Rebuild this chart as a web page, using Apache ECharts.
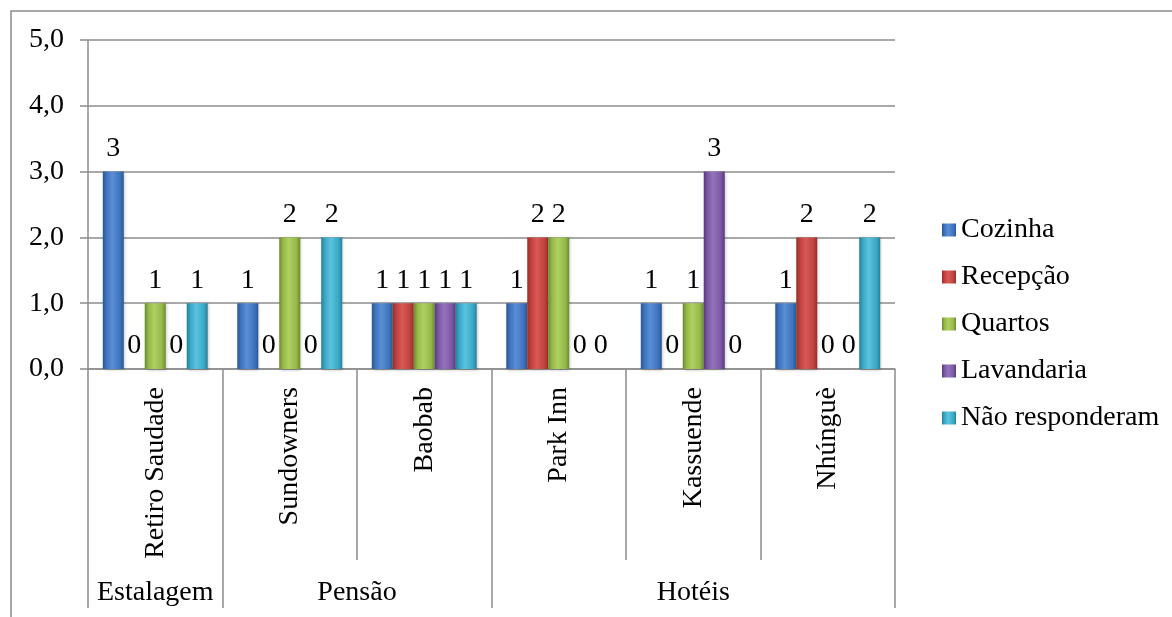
<!DOCTYPE html>
<html>
<head>
<meta charset="utf-8">
<style>
  html, body { margin: 0; padding: 0; background: #fff; }
  #main { width: 1172px; height: 617px; }
</style>
<script src="https://cdn.jsdelivr.net/npm/echarts@6/dist/echarts.min.js"></script>
</head>
<body>
<div id="main"></div>
<script>
var hotels = ['Retiro Saudade', 'Sundowners', 'Baobab', 'Park Inn', 'Kassuende', 'Nhúnguè'];
var groupNames = ['Estalagem', 'Pensão', 'Hotéis'];
var groupBounds = [0, 1, 3, 6];
var groupCenters = [0.5, 2, 4.5];
var seriesNames = ['Cozinha', 'Recepção', 'Quartos', 'Lavandaria', 'Não responderam'];
var cozinha = [3, 1, 1, 1, 1, 1];
var recepcao = [0, 0, 1, 2, 0, 2];
var quartos = [1, 2, 1, 2, 1, 0];
var lavandaria = [0, 0, 1, 0, 3, 0];
var naoResponderam = [1, 2, 1, 0, 0, 2];

var values = [cozinha, recepcao, quartos, lavandaria, naoResponderam];
// cores: borda escura, base, realce
var palette = [
  ['#2a5793', '#3f74bd', '#5a8fd6'],
  ['#93302d', '#c0413d', '#d85a55'],
  ['#6d8a2e', '#94b84a', '#afd061'],
  ['#56397a', '#7b58a3', '#9473bd'],
  ['#25819b', '#3aa8c6', '#5cc3dd']
];

var font = 'Liberation Serif';
var fs = 28;
var gray = '#8c8c8c';

function barColor(c) {
  return new echarts.graphic.LinearGradient(0, 0, 1, 0, [
    {offset: 0, color: c[0]},
    {offset: 0.18, color: c[1]},
    {offset: 0.45, color: c[2]},
    {offset: 0.82, color: c[1]},
    {offset: 1, color: c[0]}
  ]);
}

var series = seriesNames.map(function (name, i) {
  return {
    name: name,
    type: 'bar',
    xAxisIndex: 0,
    data: values[i],
    barGap: '0%',
    barCategoryGap: '22%',
    itemStyle: {
      color: barColor(palette[i]),
      shadowColor: 'rgba(0,0,0,0.25)',
      shadowBlur: 3,
      shadowOffsetX: 1,
      shadowOffsetY: 1
    },
    label: {
      show: true,
      position: 'top',
      distance: 9,
      color: '#000',
      fontFamily: font,
      fontSize: fs
    }
  };
});

var myChart = echarts.init(document.getElementById('main'));
var option = {
  animation: false,
  textStyle: { fontFamily: font },
  color: palette.map(function (c) { return c[1]; }),
  grid: { left: 88, top: 40, right: 277, bottom: 248 },
  legend: {
    orient: 'vertical',
    left: 937,
    top: 211,
    itemWidth: 14,
    itemHeight: 13,
    itemGap: 19,
    icon: 'rect',
    data: seriesNames,
    textStyle: { fontFamily: font, fontSize: fs, lineHeight: 28, color: '#000' }
  },
  xAxis: [{
    type: 'category',
    data: hotels,
    axisLine: { show: true, lineStyle: { color: gray, width: 1.5 } },
    axisTick: { show: true, interval: 0, length: 191, lineStyle: { color: gray, width: 1.5 } },
    axisLabel: {
      rotate: 90,
      interval: 0,
      margin: 18,
      color: '#000',
      fontFamily: font,
      fontSize: fs
    }
  }, {
    type: 'value',
    position: 'bottom',
    offset: 191,
    min: 0,
    max: 6,
    axisLine: { show: false },
    splitLine: { show: false },
    axisTick: {
      show: true,
      length: 48,
      customValues: groupBounds,
      lineStyle: { color: gray, width: 1.5 }
    },
    axisLabel: {
      margin: 19,
      customValues: groupCenters,
      formatter: function (v) {
        return groupNames[groupCenters.indexOf(v)];
      },
      color: '#000',
      fontFamily: font,
      fontSize: fs
    }
  }],
  yAxis: {
    type: 'value',
    min: 0,
    max: 5,
    interval: 1,
    axisLine: { show: true, lineStyle: { color: gray, width: 1.5 } },
    axisTick: { show: true, length: 8, lineStyle: { color: gray, width: 1.5 } },
    splitLine: { lineStyle: { color: gray, width: 1.5 } },
    axisLabel: {
      margin: 24,
      color: '#000',
      fontFamily: font,
      fontSize: fs,
      formatter: function (v) { return v.toFixed(1).replace('.', ','); }
    }
  },
  graphic: [{
    type: 'rect',
    shape: { x: 11, y: 11, width: 1300, height: 800 },
    style: { fill: 'none', stroke: gray, lineWidth: 1.5 },
    silent: true
  }],
  series: series
};
myChart.setOption(option);
</script>
</body>
</html>
